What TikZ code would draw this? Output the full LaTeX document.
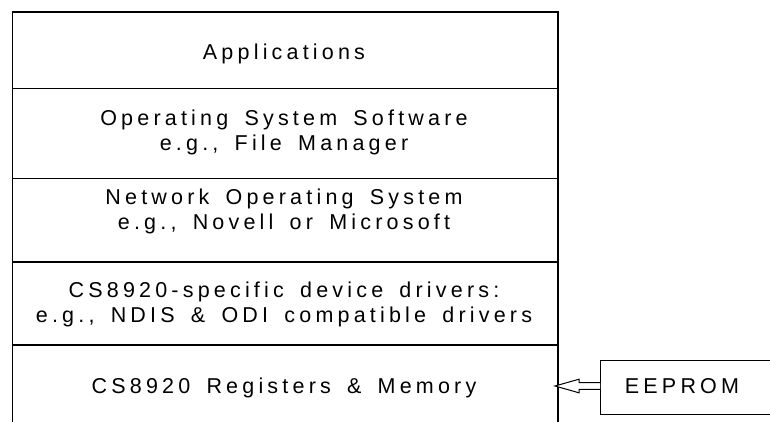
\documentclass[tikz,border=0pt]{standalone}
\usepackage{fontspec}
\setmainfont{Liberation Sans}[LetterSpace=19.5,WordSpace=1.6]
\usetikzlibrary{calc}
\begin{document}
\begin{tikzpicture}[x=1pt,y=-1pt,
  frame/.style={line width=1.3pt, black},
  txt/.style={anchor=base, inner sep=0pt, align=center, font=\fontsize{21.5}{24.5}\selectfont},
  fatarrow/.style={line width=1pt, fill=white, draw=black, line join=miter}]
\clip (0,0) rectangle (770,421);
\useasboundingbox (0,0) rectangle (770,421);
% frame of the layer stack
\coordinate (tl) at (12.5,12);
\coordinate (tr) at (558,12);
\coordinate (bl) at (12.5,430);
\coordinate (br) at (558,430);
\draw[frame] (bl) -- (tl) -- (tr) -- (br);
\foreach \y in {88.5,178.5,262,345}{
  \draw[frame] (12.5,\y) -- (558,\y);
}
% layer texts (base anchor = baseline of the last line)
\node[txt] (app) at (284,59) {Applications};
\node[txt] (oss) at (284,150) {Operating System Software\\e.g., File Manager};
\node[txt] (nos) at (284,229) {Network Operating System\\e.g., Novell or Microsoft};
\node[txt] (drv) at (284,322) {CS8920-specific device drivers:\\e.g., NDIS \& ODI compatible drivers};
\node[txt] (reg) at (284,393) {CS8920 Registers \& Memory};
% EEPROM
\node[draw, line width=1.3pt, minimum width=200pt, minimum height=54pt, anchor=north west, inner sep=0pt] (eeprom) at (600,360) {};
\node[txt] (eetxt) at (682,393) {EEPROM};
% hollow arrow from EEPROM into registers
\coordinate (tip) at (555,386);
\draw[fatarrow] (eeprom.west |- tip) ++(0,-3.4) -- ++(-21,0) -- ++(0,-3.4) -- (tip)
  -- ($(tip)+(24,6.8)$) -- ++(0,-3.4) -- ++(21,0);
\end{tikzpicture}
\end{document}
